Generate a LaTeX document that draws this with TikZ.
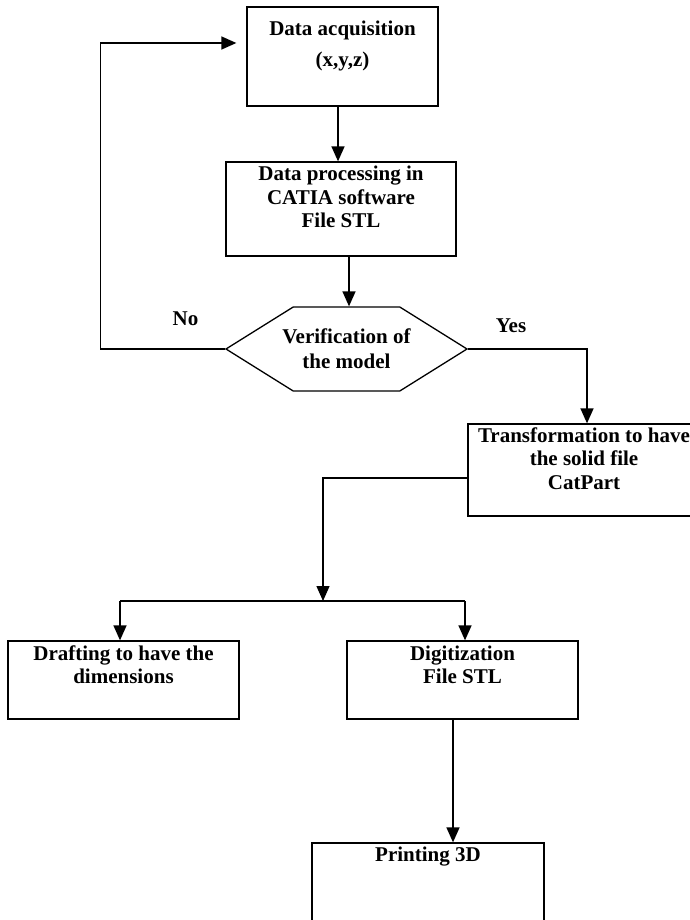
\documentclass[tikz,border=0pt]{standalone}
\usepackage{fontspec}
\setmainfont{Liberation Serif}
\usetikzlibrary{positioning,arrows.meta,shapes.symbols}

\tikzset{
  box/.style={draw,line width=1.3pt,inner sep=0pt},
  boxtext/.style={inner sep=0pt,align=center,font=\fontsize{21}{23.5}\selectfont\bfseries},
  link/.style={line width=1.4pt},
  arr/.style={line width=1.4pt,-{Triangle[length=15pt,width=13pt]}}
}

\begin{document}
\begin{tikzpicture}[x=1pt,y=-1pt]

% Frame
\useasboundingbox (0,0) rectangle (689,920);

% Boxes
\node[box,minimum width=191pt,minimum height=99pt] (acq) at (342.5,56.5) {};
\node[box,minimum width=230pt,minimum height=94pt] (proc) at (341,209) {};
\node[box,signal,signal to=east and west,signal pointer angle=64,
      minimum width=241pt,minimum height=84pt] (verif) at (346.5,349) {};
\node[box,minimum width=232pt,minimum height=92pt] (trans) at (584,470) {};
\node[box,minimum width=231pt,minimum height=78pt] (draft) at (123.5,680) {};
\node[box,minimum width=231pt,minimum height=78pt] (digit) at (462.5,680) {};
\node[box,minimum width=232pt,minimum height=92pt] (print) at (428,889) {};

% Texts
\node[boxtext,below=14pt of acq.north] (acqtxt) {Data acquisition\\[8pt](x,y,z)};
\node[boxtext,below=4.5pt of proc.north] (proctxt) {Data processing in\\CATIA software\\File STL};
\node[boxtext] (veriftxt) at (verif.center) {Verification of\\[1.5pt]the model};
\node[boxtext,below=4pt of trans.north] (transtxt) {Transformation to have\\the solid file\\CatPart};
\node[boxtext,below=5pt of draft.north] (drafttxt) {Drafting to have the\\dimensions};
\node[boxtext,below=5pt of digit.north] (digittxt) {Digitization\\File STL};
\node[boxtext,below=4pt of print.north] (printtxt) {Printing 3D};
\node[boxtext] (no) at (185.5,318.5) {No};
\node[boxtext] (yes) at (511,325.5) {Yes};

% Points
\coordinate (acqout) at ([xshift=-4.5pt]acq.south);
\coordinate (procout) at ([xshift=8pt]proc.south);
\coordinate (acqin) at ([yshift=13.5pt]acq.west);
\coordinate (transin) at ([xshift=3pt]trans.north);
\coordinate (transout) at ([yshift=-8pt]trans.west);
\coordinate (split) at (323,601);
\coordinate (splitL) at (120,601);
\coordinate (splitR) at (465,601);
\coordinate (digitout) at ([xshift=-9.5pt]digit.south);

% Lines
\draw[arr] (acqout) -- (acqout |- proc.north);
\draw[arr] (procout) -- (procout |- verif.north);
\draw[arr,shorten >=10pt] (verif.west) -- ++(-124,0) |- (acqin);
\draw[arr] (verif.east) -| (transin);
\draw[arr] (transout) -| (split);
\draw[link] (splitL) -- (splitR);
\draw[arr] (splitL) -- (splitL |- draft.north);
\draw[arr] (splitR) -- (splitR |- digit.north);
\draw[arr] (digitout) -- (digitout |- print.north);

\end{tikzpicture}
\end{document}
